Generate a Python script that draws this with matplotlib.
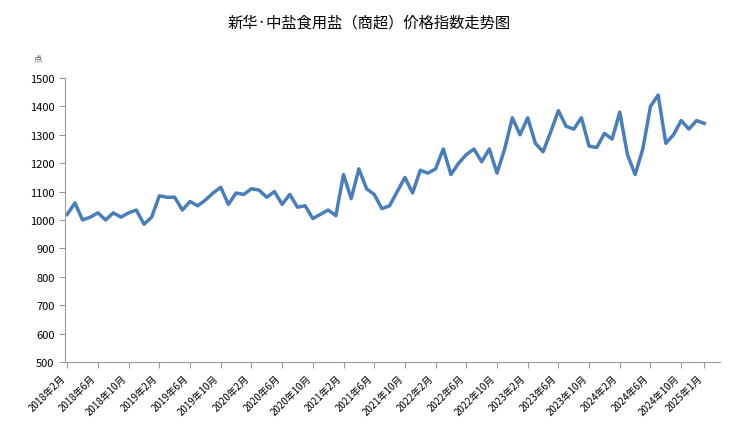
import matplotlib
matplotlib.use("Agg")
from matplotlib import pyplot as plt

plt.rcParams["font.family"] = ["Noto Sans CJK SC", "Noto Sans CJK JP", "Noto Sans CJK TC",
                               "Noto Sans CJK KR", "DejaVu Sans"]

# monthly index, 2018-02 .. 2025-01
values = [1020, 1060, 1000, 1010, 1025, 1000, 1025, 1010, 1025, 1035, 985, 1010,
          1085, 1080, 1080, 1035, 1065, 1050, 1070, 1095, 1115, 1055, 1095, 1090,
          1110, 1105, 1080, 1100, 1055, 1090, 1045, 1050, 1005, 1020, 1035, 1015,
          1160, 1075, 1180, 1110, 1090, 1040, 1050, 1100, 1150, 1095, 1175, 1165,
          1180, 1250, 1160, 1200, 1230, 1250, 1205, 1250, 1165, 1250, 1360, 1300,
          1360, 1270, 1240, 1310, 1385, 1330, 1320, 1360, 1260, 1255, 1305, 1285,
          1380, 1230, 1160, 1250, 1400, 1440, 1270, 1300, 1350, 1320, 1350, 1340]
tick_pos = list(range(0, 84, 4)) + [83]
tick_labels = ["%d年%d月" % (2018 + (1 + i) // 12, (1 + i) % 12 + 1) for i in range(0, 84, 4)] + ["2025年1月"]

fig, ax = plt.subplots(figsize=(7.38, 4.27), dpi=100)
fig.subplots_adjust(left=0.088, right=0.975, top=0.815, bottom=0.15)
ax.plot(range(len(values)), values, color="#4a7ebb", lw=2.5, solid_joinstyle="round")

ax.set_ylim(500, 1500)
ax.set_yticks(range(500, 1501, 100))
ax.set_xlim(-0.3, 85)
ax.set_xticks(tick_pos)
ax.set_xticklabels(tick_labels, rotation=45, ha="right", fontsize=7)
ax.tick_params(axis="y", labelsize=8, colors="black")
ax.tick_params(color="#999999", length=4)
for s in ["top", "right"]:
    ax.spines[s].set_visible(False)
for s in ["left", "bottom"]:
    ax.spines[s].set_color("#999999")

fig.text(0.5, 0.935, "新华·中盐食用盐（商超）价格指数走势图", ha="center", fontsize=11)
fig.text(0.045, 0.855, "点", fontsize=6, color="#555555")
fig.savefig("out.png")
